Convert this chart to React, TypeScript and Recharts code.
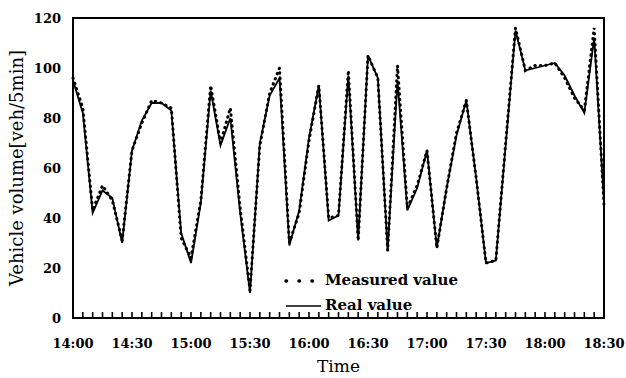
import React from 'react';
import { LineChart, Line, XAxis, YAxis, Legend, ReferenceArea } from 'recharts';

// 5-minute volumes from 14:00 to 18:30
const TIME_LABELS = ['14:00', '14:30', '15:00', '15:30', '16:00', '16:30', '17:00', '17:30', '18:00', '18:30'];

const REAL_VALUES = [
  95, 82, 42, 51, 48, 30, 67, 79, 86, 86,
  83, 34, 22, 46, 91, 69, 80, 42, 10, 70,
  89, 96, 29, 43, 72, 93, 39, 41, 97, 31,
  105, 96, 27, 95, 43, 52, 67, 28, 52, 73,
  87, 56, 22, 23, 69, 115, 99, 100, 101, 102,
  97, 89, 82, 112, 46,
];

const MEASURED_VALUES = [
  96, 84, 43, 53, 47, 31, 67, 78, 87, 86,
  84, 32, 24, 47, 93, 70, 84, 44, 11, 69,
  90, 100, 30, 42, 71, 93, 40, 41, 99, 31,
  105, 96, 27, 101, 44, 53, 67, 28, 52, 74,
  87, 56, 22, 23, 70, 116, 99, 101, 101, 102,
  96, 88, 83, 116, 45,
];

const Y_TICKS = [0, 20, 40, 60, 80, 100, 120];
const STEP_TICKS = REAL_VALUES.map((_, i) => i);

const data = REAL_VALUES.map((real, i) => ({
  step: i,
  real,
  measured: MEASURED_VALUES[i],
}));

const FONT = '"DejaVu Serif", "Liberation Serif", serif';
const AXIS_LINE = { stroke: '#000', strokeWidth: 2 };

// small inward tick every 5 min, label every 30 min
const TimeTick = (props: any) => {
  const { x, y, payload } = props;
  const i = payload.value;
  return (
    <g>
      <path d={`M${x},${y - 1}V${y - 6}`} stroke="#000" strokeWidth={1.6} fill="none" />
      {i % 6 === 0 && (
        <text
          x={x}
          y={y + 30}
          textAnchor="middle"
          fontFamily={FONT}
          fontWeight="bold"
          fontSize={13}
          fill="#000"
        >
          {TIME_LABELS[i / 6]}
        </text>
      )}
    </g>
  );
};

const renderLegend = () => (
  <div style={{ fontFamily: FONT, fontWeight: 'bold', fontSize: 15, lineHeight: '25px', color: '#000' }}>
    <div style={{ display: 'flex', alignItems: 'center' }}>
      <svg width={42} height={10}>
        <line
          x1={3}
          y1={5}
          x2={30}
          y2={5}
          stroke="#000"
          strokeWidth={3.5}
          strokeDasharray="0.5 12.5"
          strokeLinecap="round"
        />
      </svg>
      <span>Measured value</span>
    </div>
    <div style={{ display: 'flex', alignItems: 'center' }}>
      <svg width={42} height={10}>
        <line x1={3} y1={5} x2={38} y2={5} stroke="#000" strokeWidth={1.5} />
      </svg>
      <span>Real value</span>
    </div>
  </div>
);

export default function App() {
  return (
    <div style={{ position: 'absolute', left: 0, top: 0, width: 626, height: 378, background: '#fff' }}>
      <LineChart width={626} height={378} data={data} margin={{ top: 18, right: 22, bottom: 0, left: 0 }}>
        <ReferenceArea
          x1={0}
          x2={54}
          y1={0}
          y2={120}
          fill="none"
          stroke="#000"
          strokeWidth={2}
        />
        <XAxis
          dataKey="step"
          type="number"
          domain={[0, 54]}
          ticks={STEP_TICKS}
          interval={0}
          tickSize={0}
          tickMargin={0}
          tickLine={false}
          tick={<TimeTick />}
          height={60}
          axisLine={AXIS_LINE}
          label={{
            value: 'Time',
            position: 'insideBottom',
            offset: 6,
            style: { fontFamily: FONT, fontSize: 17, fill: '#000' },
          }}
        />
        <YAxis
          type="number"
          domain={[0, 120]}
          ticks={Y_TICKS}
          width={73}
          tickLine={false}
          tickSize={6}
          tickMargin={6}
          axisLine={AXIS_LINE}
          tick={{ fontFamily: FONT, fontWeight: 'bold', fontSize: 13, fill: '#000' }}
          label={{
            value: 'Vehicle volume[veh/5min]',
            angle: -90,
            position: 'insideLeft',
            offset: 17,
            style: { textAnchor: 'middle', fontFamily: FONT, fontSize: 18, fill: '#000' },
          }}
        />
        <Legend
          layout="horizontal"
          verticalAlign="middle"
          align="center"
          content={renderLegend}
          wrapperStyle={{ position: 'absolute', left: 283, top: 268, width: 'auto', height: 'auto' }}
        />
        <Line
          type="linear"
          dataKey="real"
          name="Real value"
          stroke="#000"
          strokeWidth={1.8}
          dot={false}
          isAnimationActive={false}
        />
        <Line
          type="linear"
          dataKey="measured"
          name="Measured value"
          stroke="#000"
          strokeWidth={3}
          strokeDasharray="0.5 5"
          strokeLinecap="round"
          dot={false}
          isAnimationActive={false}
        />
      </LineChart>
    </div>
  );
}
